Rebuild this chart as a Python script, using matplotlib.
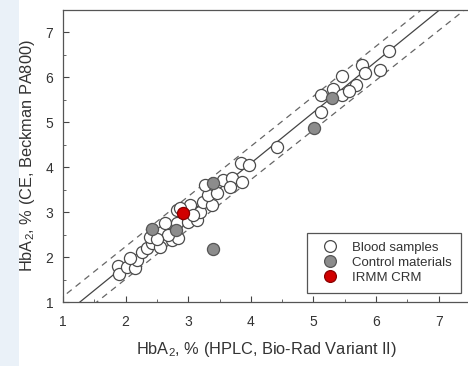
import matplotlib
matplotlib.use("Agg")
import matplotlib.pyplot as plt
from matplotlib.lines import Line2D
from matplotlib.patches import Rectangle
import numpy as np

plt.rcParams['font.family'] = ['Liberation Sans', 'DejaVu Sans']
plt.rcParams['mathtext.default'] = 'regular'

# blood samples (HPLC, CE)
blood_x = [1.88, 1.89, 2.02, 2.15, 2.18, 2.26, 2.34, 2.42, 2.39, 2.58,
           2.63, 2.74, 2.82, 2.82, 3.03, 3.00, 3.14, 3.19, 3.24, 3.38,
           3.32, 3.46, 3.27, 3.56, 3.70, 3.67, 3.86, 3.84, 3.97, 4.42,
           5.12, 5.12, 5.31, 5.46, 5.46, 5.68, 5.78, 5.82, 6.06, 6.21,
           3.08, 2.55, 2.84, 2.87, 2.07, 5.57, 2.68, 2.50]
blood_y = [1.80, 1.62, 1.78, 1.76, 1.94, 2.12, 2.21, 2.32, 2.45, 2.56,
           2.76, 2.38, 2.76, 3.05, 3.17, 2.79, 2.83, 3.01, 3.23, 3.17,
           3.39, 3.43, 3.61, 3.72, 3.77, 3.57, 3.68, 4.10, 4.06, 4.46,
           5.22, 5.60, 5.75, 5.60, 6.02, 5.84, 6.27, 6.09, 6.16, 6.58,
           2.94, 2.23, 2.43, 3.10, 1.98, 5.70, 2.50, 2.40]

# control materials
ctrl_x = [2.42, 2.80, 3.40, 3.40, 5.30, 5.01]
ctrl_y = [2.63, 2.61, 3.66, 2.18, 5.55, 4.88]

# IRMM certified reference material
crm_x = [2.92]
crm_y = [2.99]

# regression line and its limits: (slope, intercept)
fit_line = (1.132, -0.438)
upper_line = (1.115, 0.005)
lower_line = (1.107, -0.705)

fig = plt.figure(figsize=(4.68, 3.66), dpi=100)
fig.patches.append(Rectangle((0, 0), 19 / 468, 1, transform=fig.transFigure,
                             facecolor='#eaf1f8', edgecolor='none', zorder=-1))
ax = fig.add_axes([63 / 468, 64 / 366, 407 / 468, 292 / 366])

xx = np.array([0.5, 8.0])
ax.plot(xx, fit_line[0] * xx + fit_line[1], color='#444444', lw=0.9, zorder=1)
for sl, ic in (upper_line, lower_line):
    ax.plot(xx, sl * xx + ic, color='#666666', lw=0.9, dashes=(5, 4), zorder=1)

ax.scatter(blood_x, blood_y, s=76, facecolor='white', edgecolor='#4a4a4a',
           linewidth=0.9, zorder=3)
ax.scatter(ctrl_x, ctrl_y, s=76, facecolor='#8c8c8c', edgecolor='#555555',
           linewidth=0.9, zorder=4)
ax.scatter(crm_x, crm_y, s=76, facecolor='#d10000', edgecolor='#8a0000',
           linewidth=0.9, zorder=5)

ax.set_xlim(1, 7.5)
ax.set_ylim(1, 7.5)
ax.set_xticks([1, 2, 3, 4, 5, 6, 7])
ax.set_yticks([1, 2, 3, 4, 5, 6, 7])
ax.set_xticks(np.arange(1.5, 7.6, 1), minor=True)
ax.set_yticks(np.arange(1.5, 7.6, 1), minor=True)
ax.tick_params(which='major', direction='in', length=4, width=0.8,
               colors='#444444', labelcolor='#333333', labelsize=10)
ax.tick_params(which='minor', direction='in', length=2.5, width=0.7,
               colors='#666666')
ax.tick_params(axis='x', pad=9)
ax.tick_params(axis='y', pad=7)
for sp in ax.spines.values():
    sp.set_color('#555555')
    sp.set_linewidth(0.9)
ax.spines['right'].set_visible(False)

ax.set_xlabel('HbA$_2$, % (HPLC, Bio-Rad Variant II)', fontsize=11.8,
              color='#333333', labelpad=8)
ax.set_ylabel('HbA$_2$, % (CE, Beckman PA800)', fontsize=11.8,
              color='#333333', labelpad=6)

handles = [
    Line2D([], [], marker='o', ls='none', ms=8.5, mfc='white', mec='#4a4a4a', mew=0.9),
    Line2D([], [], marker='o', ls='none', ms=8.5, mfc='#8c8c8c', mec='#555555', mew=0.9),
    Line2D([], [], marker='o', ls='none', ms=8.5, mfc='#d10000', mec='#8a0000', mew=0.9),
]
leg = ax.legend(handles, ['Blood samples', 'Control materials', 'IRMM CRM'],
                loc='lower right', bbox_to_anchor=(461 / 468, (366 - 293) / 366),
                bbox_transform=fig.transFigure, fontsize=9.5, fancybox=False,
                edgecolor='#555555', framealpha=1, handletextpad=0.7,
                labelspacing=0.2, borderpad=0.7, handlelength=2.0,
                borderaxespad=0)
leg.get_frame().set_linewidth(0.9)
for t in leg.get_texts():
    t.set_color('#333333')

fig.savefig('out.png', dpi=100)
